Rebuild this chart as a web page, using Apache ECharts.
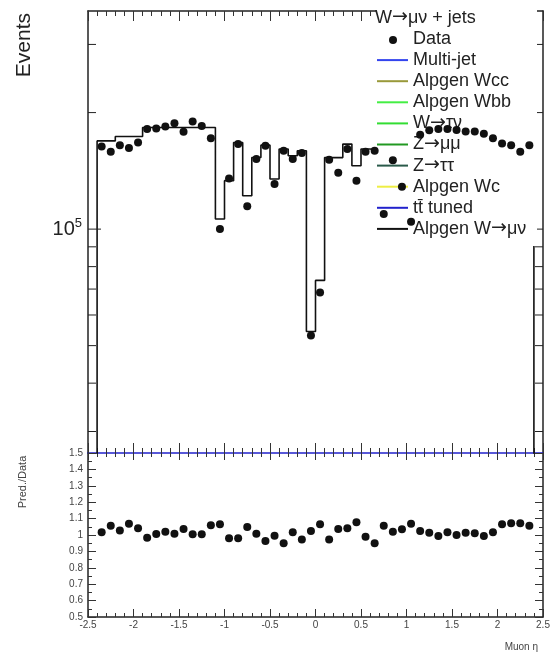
<!DOCTYPE html>
<html>
<head>
<meta charset="utf-8">
<script src="https://cdn.jsdelivr.net/npm/echarts@6/dist/echarts.min.js"></script>
<style>
  html, body { margin: 0; padding: 0; background: #fff; }
  #chart { width: 557px; height: 654px; }
</style>
</head>
<body>
<div id="chart"></div>
<script>
// Muon pseudorapidity, 48 bins of 0.1 from -2.4 to 2.4
const etaMin = -2.4;
const binWidth = 0.1;

// Data events per bin
const dataEvents = [
  163400, 158400, 164800, 162000, 167400, 181300, 181900, 184100, 187800, 178400,
  189600, 184800, 171800, 100100, 135200, 165800, 114500, 151700, 164100, 130800,
  159400, 151700, 157200, 53100, 68600, 151100, 139800, 161000, 133400, 158400,
  159400, 109400, 150600, 128700, 104500, 175200, 180000, 181300, 181300, 180200,
  178700, 178700, 176300, 171600, 166400, 164800, 158400, 164600
];

// Total prediction (Alpgen W->munu stack) per bin
const mcEvents = [
  169000, 169000, 173500, 173500, 173500, 183000, 183000, 183000, 183000, 183000,
  183000, 183000, 183000, 106200, 133400, 167400, 122000, 153100, 164800, 134700,
  161000, 154700, 159400, 54400, 73700, 153000, 153000, 165800, 145800, 161000,
  160000, 115600, 153600, 133200, 111600, 179600, 182500, 180200, 184400, 180200,
  181200, 180500, 175200, 174500, 177400, 176700, 169800, 173800
];

// Prediction / data per bin
const ratioPredData = [
  1.017, 1.056, 1.027, 1.068, 1.041, 0.983, 1.006, 1.020, 1.008, 1.037,
  1.004, 1.004, 1.060, 1.066, 0.980, 0.980, 1.049, 1.008, 0.963, 0.996,
  0.949, 1.017, 0.973, 1.025, 1.066, 0.973, 1.037, 1.041, 1.078, 0.990,
  0.949, 1.057, 1.020, 1.035, 1.068, 1.025, 1.014, 0.994, 1.017, 1.000,
  1.014, 1.010, 0.994, 1.017, 1.066, 1.072, 1.072, 1.056
];

// Log-axis tick values of the event panel
const yMajorTicks = [1e5];
const yMinorTicks = [3e4, 4e4, 5e4, 6e4, 7e4, 8e4, 9e4, 2e5, 3e5];

// Legend entries (name, colour; null colour = marker entry)
const legendTitle = 'W\u2192\u03bc\u03bd + jets';
const legendNames = ['Data', 'Multi-jet', 'Alpgen Wcc', 'Alpgen Wbb', 'W\u2192\u03c4\u03bd',
  'Z\u2192\u03bc\u03bc', 'Z\u2192\u03c4\u03c4', 'Alpgen Wc', 'tt\u0304 tuned', 'Alpgen W\u2192\u03bc\u03bd'];
const legendColors = [null, '#3344ee', '#99993a', '#44ee44', '#33dd33',
  '#229922', '#2a5a4a', '#eeee44', '#2222cc', '#111111'];

const FONT = '"Liberation Sans", Arial, Helvetica, sans-serif';
const yLogMin = 26400, yLogMax = 366000;

const binCenters = dataEvents.map((_, i) => +(etaMin + (i + 0.5) * binWidth).toFixed(3));

// Step outline of the prediction histogram
const mcStep = [[etaMin, 1e4]];
mcEvents.forEach((v, i) => {
  const lo = +(etaMin + i * binWidth).toFixed(3);
  const hi = +(lo + binWidth).toFixed(3);
  mcStep.push([lo, v], [hi, v]);
});
mcStep.push([+(etaMin + mcEvents.length * binWidth).toFixed(3), 1e4]);

function logTickSeries(values, len) {
  return {
    type: 'custom', coordinateSystem: 'cartesian2d', xAxisIndex: 0, yAxisIndex: 0,
    dimensions: ['events'], encode: { y: 0 },
    data: values.map(v => [v]), clip: false, silent: true, z: 3,
    renderItem: (params, api) => {
      const v = api.value(0);
      const l = api.coord([-2.5, v]);
      const r = api.coord([2.5, v]);
      return {
        type: 'group', children: [
          { type: 'line', shape: { x1: l[0], y1: l[1], x2: l[0] + len, y2: l[1] }, style: { stroke: '#222', lineWidth: 1 } },
          { type: 'line', shape: { x1: r[0] - len, y1: r[1], x2: r[0], y2: r[1] }, style: { stroke: '#222', lineWidth: 1 } }
        ]
      };
    }
  };
}

const xCommon = {
  type: 'value', min: -2.5, max: 2.5, interval: 0.5,
  splitLine: { show: false },
  axisLabel: { show: false }
};

// Arrows set in DejaVu Sans so they sit at mid height
const arrowRich = { a: { fontFamily: '"DejaVu Sans"', fontSize: 19, fill: '#222', padding: [0, 0, 1, 0] } };
const withArrow = s => s.replace(/\u2192/g, '{a|\u2192}');

// Legend drawn as a white box that covers the prediction line but not the data points
const legendGraphics = [
  { type: 'rect', shape: { x: 376, y: 4, width: 161, height: 242 }, style: { fill: '#fff' }, z: 10 },
  { type: 'text', x: 375, y: 18, z: 11, style: { text: withArrow(legendTitle), rich: arrowRich,
      font: '18px ' + FONT, fill: '#222', verticalAlign: 'middle' } }
];
legendNames.forEach((name, i) => {
  const y = 39 + 21.1 * i;
  legendGraphics.push({ type: 'text', x: 413, y: y, z: 11,
    style: { text: withArrow(name), rich: arrowRich, font: '18px ' + FONT, fill: '#222', verticalAlign: 'middle' } });
  if (legendColors[i]) {
    legendGraphics.push({ type: 'line', z: 11, shape: { x1: 377, y1: y, x2: 408, y2: y },
      style: { stroke: legendColors[i], lineWidth: 2 } });
  } else {
    legendGraphics.push({ type: 'circle', z: 11, shape: { cx: 393, cy: y + 1, r: 4 }, style: { fill: '#111' } });
  }
});

const frameLine = { onZero: false, lineStyle: { color: '#222', width: 1.5 } };

const option = {
  backgroundColor: '#fff',
  animation: false,
  grid: [
    { left: 88, top: 11, width: 455, height: 442 },
    { left: 88, top: 453, width: 455, height: 164 }
  ],
  xAxis: [
    Object.assign({}, xCommon, { gridIndex: 0, position: 'bottom',
      axisLine: { onZero: false, lineStyle: { color: '#2222cc', width: 1.5 } },
      axisTick: { inside: true, length: 10, lineStyle: { color: '#333' } },
      minorTick: { show: true, splitNumber: 5, length: 5, lineStyle: { color: '#333' } } }),
    Object.assign({}, xCommon, { gridIndex: 0, position: 'top',
      axisLine: frameLine,
      axisTick: { inside: true, length: 10, lineStyle: { color: '#333' } },
      minorTick: { show: true, splitNumber: 5, length: 5, lineStyle: { color: '#333' } } }),
    Object.assign({}, xCommon, { gridIndex: 1, position: 'bottom',
      axisLine: frameLine,
      axisTick: { inside: true, length: 8, lineStyle: { color: '#333' } },
      minorTick: { show: true, splitNumber: 5, length: 4, lineStyle: { color: '#333' } },
      axisLabel: { show: true, fontSize: 10, fontFamily: FONT, color: '#444', margin: 3 } }),
    Object.assign({}, xCommon, { gridIndex: 1, position: 'top',
      axisLine: { show: false, onZero: false },
      axisTick: { inside: true, length: 7, lineStyle: { color: '#333' } },
      minorTick: { show: true, splitNumber: 5, length: 4, lineStyle: { color: '#333' } } })
  ],
  yAxis: [
    { gridIndex: 0, type: 'log', min: yLogMin, max: yLogMax, position: 'left',
      splitLine: { show: false }, axisTick: { show: false },
      axisLine: frameLine,
      axisLabel: {
        margin: 6,
        formatter: v => (Math.abs(Math.log10(v) - 5) < 1e-6 ? '{m|10}{e|5}' : ''),
        rich: {
          m: { fontSize: 20, fontFamily: FONT, color: '#222' },
          e: { fontSize: 13, fontFamily: FONT, color: '#222', padding: [0, 0, 12, 0] }
        }
      } },
    { gridIndex: 0, type: 'log', min: yLogMin, max: yLogMax, position: 'right',
      splitLine: { show: false }, axisTick: { show: false }, axisLabel: { show: false },
      axisLine: frameLine },
    { gridIndex: 1, type: 'value', min: 0.5, max: 1.5, interval: 0.1, position: 'left',
      splitLine: { show: false },
      axisLine: frameLine,
      axisTick: { inside: true, length: 8, lineStyle: { color: '#333' } },
      minorTick: { show: true, splitNumber: 2, length: 4, lineStyle: { color: '#333' } },
      axisLabel: { fontSize: 10, fontFamily: FONT, color: '#444', margin: 5,
        formatter: v => String(+v.toFixed(1)) } },
    { gridIndex: 1, type: 'value', min: 0.5, max: 1.5, interval: 0.1, position: 'right',
      splitLine: { show: false }, axisLabel: { show: false },
      axisLine: frameLine,
      axisTick: { inside: true, length: 8, lineStyle: { color: '#333' } },
      minorTick: { show: true, splitNumber: 2, length: 4, lineStyle: { color: '#333' } } }
  ],
  graphic: [
    { type: 'text', x: 24, y: 13, rotation: Math.PI / 2,
      style: { text: 'Events', font: '21px ' + FONT, fill: '#222', align: 'right', verticalAlign: 'middle' } },
    { type: 'text', x: 23, y: 482, rotation: Math.PI / 2,
      style: { text: 'Pred./Data', font: '11px ' + FONT, fill: '#444', align: 'center', verticalAlign: 'middle' } },
    { type: 'text', x: 538, y: 647,
      style: { text: 'Muon \u03b7', font: '10px ' + FONT, fill: '#444', align: 'right', verticalAlign: 'middle' } }
  ].concat(legendGraphics),
  series: [
    { name: 'Alpgen W\u2192\u03bc\u03bd', type: 'line', xAxisIndex: 0, yAxisIndex: 0,
      data: mcStep, showSymbol: false, symbol: 'none', clip: true, z: 2,
      lineStyle: { color: '#111', width: 1.6 } },
    logTickSeries(yMajorTicks, 13),
    logTickSeries(yMinorTicks, 8),
    { name: 'Data', type: 'scatter', xAxisIndex: 0, yAxisIndex: 0,
      data: binCenters.map((x, i) => [x, dataEvents[i]]),
      symbol: 'circle', symbolSize: 8, itemStyle: { color: '#111', opacity: 1 }, z: 20 },
    { name: 'Pred./Data', type: 'scatter', xAxisIndex: 2, yAxisIndex: 2,
      data: binCenters.map((x, i) => [x, ratioPredData[i]]),
      symbol: 'circle', symbolSize: 8, itemStyle: { color: '#111', opacity: 1 }, z: 20 }
  ]
};

const chart = echarts.init(document.getElementById('chart'), null, { renderer: 'canvas' });
chart.setOption(option);
</script>
</body>
</html>
